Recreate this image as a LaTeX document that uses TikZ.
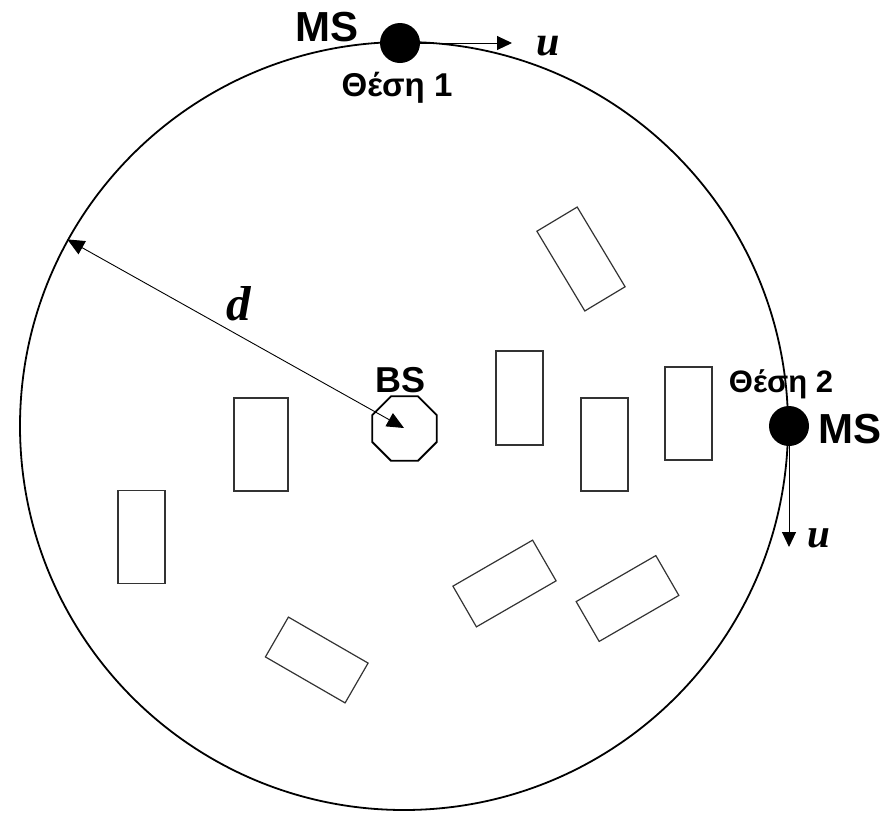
\documentclass[tikz,border=0pt]{standalone}
\usepackage{fontspec}
\setmainfont{Liberation Sans}
\newfontfamily\timesf{Liberation Serif}
\usetikzlibrary{shapes.geometric,arrows.meta}
\begin{document}
\begin{tikzpicture}[x=1pt,y=-1pt,
  bldg/.style={draw=black!80,line width=1.2pt,minimum width=47pt,minimum height=93pt,inner sep=0pt},
  msdot/.style={circle,fill=black,minimum size=40pt,inner sep=0pt},
  lab/.style={font=\fontsize{#1}{#1}\selectfont\bfseries,inner sep=0pt},
  vlab/.style={font=\fontsize{#1}{#1}\selectfont\timesf\bfseries\itshape,inner sep=0pt,anchor=base},
  tip/.style={-{Triangle[length=15pt,width=14pt]},line width=1pt}]
\useasboundingbox (0,0) rectangle (887,817);
\coordinate (c) at (404,428);
\node[circle,draw,line width=1.8pt,minimum size=768pt,inner sep=0pt] (cell) at (404,426) {};
% buildings
\node[bldg,minimum width=54pt] (b1) at (261,444.5) {};
\node[bldg] (b2) at (141.5,537) {};
\node[bldg,minimum height=94pt] (b3) at (519.5,398) {};
\node[bldg] (b4) at (604.5,444.5) {};
\node[bldg] (b5) at (688.5,413.5) {};
\node[bldg,rotate=31] (b6) at (581,259) {};
\node[bldg,minimum width=92pt,minimum height=47pt,rotate=30] (b7) at (504.5,583.5) {};
\node[bldg,minimum width=92pt,minimum height=46pt,rotate=30] (b8) at (627.5,598.5) {};
\node[bldg,minimum width=92pt,minimum height=46pt,rotate=-30] (b9) at (316.75,660) {};
% base station
\node[regular polygon,regular polygon sides=8,draw,line width=1.8pt,minimum size=70pt,inner sep=0pt] (bs) at (404.5,428.5) {};
\node[lab=36pt] (bslab) at (401,380) {BS};
% radius arrow
\draw[{Triangle[length=17pt,width=15pt]}-{Triangle[length=17pt,width=15pt]},line width=0.9pt] (cell.151.9) -- (c);
\node[vlab=49pt] (d) at (239,320) {d};
% mobile station 1
\coordinate (u1tip) at (512,43);
\draw[tip] (400,43) -- (u1tip);
\node[msdot] (ms1) at (400,43) {};
\node[lab=42pt] (ms1lab) at (327,27) {MS};
\node[lab=33pt,anchor=base] (pos1) at (397,96) {Θέση 1};
\node[vlab=42pt] (u1) at (548,55) {u};
% mobile station 2
\coordinate (u2tip) at (789,547);
\draw[tip] (789,426) -- (u2tip);
\node[msdot] (ms2) at (789,426) {};
\node[lab=42pt] (ms2lab) at (850,429) {MS};
\node[lab=31pt,anchor=base] (pos2) at (781,392) {Θέση 2};
\node[vlab=41pt] (u2) at (818.5,547) {u};
\end{tikzpicture}
\end{document}
